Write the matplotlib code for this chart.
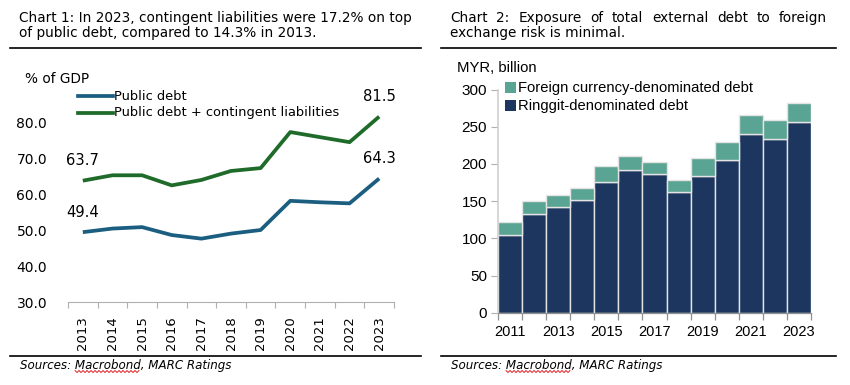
import matplotlib
matplotlib.use('Agg')
import matplotlib.pyplot as plt
from matplotlib.lines import Line2D
from matplotlib.patches import Rectangle
import numpy as np

# ---------------- data ----------------
years_left = ['2013', '2014', '2015', '2016', '2017', '2018', '2019', '2020', '2021', '2022', '2023']
public_debt = [49.4, 50.4, 50.8, 48.6, 47.6, 49.0, 50.0, 58.1, 57.7, 57.4, 64.3]
public_plus_contingent = [63.7, 65.2, 65.2, 62.4, 63.9, 66.4, 67.2, 77.2, 75.8, 74.4, 81.5]
left_yticks = [30, 40, 50, 60, 70, 80]

years_right = [2011, 2012, 2013, 2014, 2015, 2016, 2017, 2018, 2019, 2020, 2021, 2022, 2023]
ringgit_debt = [104.4, 132.2, 141.6, 151.4, 175.6, 191.8, 186.4, 162.2, 183.7, 205.6, 240.6, 233.4, 256.3]
foreign_debt = [17.9, 17.4, 16.6, 16.6, 22.0, 18.3, 16.6, 16.6, 23.7, 24.2, 25.5, 25.1, 25.6]
right_yticks = [0, 50, 100, 150, 200, 250, 300]

# ---------------- style ----------------
C_BLUE = '#1b5e80'
C_GREEN = '#1e6b2a'
C_NAVY = '#1d3660'
C_TEAL = '#5aa493'
AX_GRAY = '#b0b0b0'
LEFT_FONT = 'DejaVu Sans'
RIGHT_FONT = 'Liberation Sans'

W, H = 850, 385
fig = plt.figure(figsize=(W / 100, H / 100), dpi=100)


def fx(x):
    return x / W


def fy(y):
    return 1 - y / H


def ftext(x, y, s, **kw):
    return fig.text(fx(x), fy(y), s, **kw)


def hline(x0, x1, y, color='black', lw=1.0):
    fig.add_artist(Line2D([fx(x0), fx(x1)], [fy(y), fy(y)], transform=fig.transFigure,
                          color=color, lw=lw))


TITLE_FS = 9.85
# ---------------- titles ----------------
ftext(19, 18, 'Chart 1: In 2023, contingent liabilities were 17.2% on top',
      fontsize=TITLE_FS, family=LEFT_FONT, va='center', ha='left')
ftext(19, 33, 'of public debt, compared to 14.3% in 2013.',
      fontsize=TITLE_FS, family=LEFT_FONT, va='center', ha='left')

# right title, first line justified
words = 'Chart 2: Exposure of total external debt to foreign'.split()
word_objs = [ftext(450, 18, w, fontsize=TITLE_FS, family=LEFT_FONT, va='center', ha='left') for w in words]
ftext(450, 33, 'exchange risk is minimal.', fontsize=TITLE_FS, family=LEFT_FONT, va='center', ha='left')
fig.canvas.draw()
renderer = fig.canvas.get_renderer()
widths = [t.get_window_extent(renderer).width for t in word_objs]
x_start, x_end = 450, 827
gap = (x_end - x_start - sum(widths)) / (len(words) - 1)
xpos = x_start
for t, wdt in zip(word_objs, widths):
    t.set_x(fx(xpos))
    xpos += wdt + gap

hline(10, 421, 48, lw=1.2)
hline(441, 836, 48, lw=1.2)
hline(10, 421, 356, lw=1.2)
hline(441, 836, 356, lw=1.2)

# sources
for x0 in (20, 451):
    ftext(x0, 366, 'Sources: Macrobond, MARC Ratings', fontsize=8.6, family=LEFT_FONT,
          style='italic', va='center', ha='left')
# spell-check squiggle under "Macrobond"
for xs in (75, 506):
    zx = np.arange(xs, xs + 66, 2.0)
    zy = 371.5 + np.where(np.arange(len(zx)) % 2 == 0, -1.0, 1.0)
    fig.add_artist(Line2D(fx(zx), fy(zy), transform=fig.transFigure, color='#e02020', lw=0.7))

# ---------------- left chart ----------------
ax1 = fig.add_axes([fx(68), fy(302), (394 - 68) / W, (302 - 86) / H])
xl = np.arange(len(years_left))
ax1.plot(xl, public_debt, color=C_BLUE, lw=2.7, solid_capstyle='butt')
ax1.plot(xl, public_plus_contingent, color=C_GREEN, lw=2.7, solid_capstyle='butt')
ax1.set_xlim(-0.5, len(years_left) - 0.5)
ax1.set_ylim(30, 90)
ax1.set_yticks(left_yticks)
ax1.set_yticklabels([f'{v:.1f}' for v in left_yticks], family=LEFT_FONT, fontsize=10)
ax1.tick_params(axis='y', length=0, pad=15)
ax1.set_xticks(xl)
ax1.set_xticklabels(years_left, rotation=90, family=LEFT_FONT, fontsize=9.5)
ax1.tick_params(axis='x', which='major', length=0, pad=10)
ax1.set_xticks(np.arange(-0.5, len(years_left)), minor=True)
ax1.tick_params(axis='x', which='minor', length=4, color=AX_GRAY, width=0.8)
for s in ('top', 'right', 'left'):
    ax1.spines[s].set_visible(False)
ax1.spines['bottom'].set_color(AX_GRAY)
ax1.spines['bottom'].set_linewidth(0.8)
ax1.patch.set_alpha(0)

for i in (0, len(years_left) - 1):
    for series in (public_debt, public_plus_contingent):
        ax1.annotate(f'{series[i]:.1f}', (xl[i], series[i]), xytext=(0, 20),
                     textcoords='offset pixels', ha='center', va='center',
                     fontsize=10.6, family=LEFT_FONT)

ftext(25, 79, '% of GDP', fontsize=9.8, family=LEFT_FONT, va='center', ha='left')
for yy, col, lab in ((96, C_BLUE, 'Public debt'),
                     (112.5, C_GREEN, 'Public debt + contingent liabilities')):
    fig.add_artist(Line2D([fx(78), fx(113)], [fy(yy), fy(yy)], transform=fig.transFigure,
                          color=col, lw=2.7))
    ftext(114, yy, lab, fontsize=9.4, family=LEFT_FONT, va='center', ha='left')

# ---------------- right chart ----------------
ax2 = fig.add_axes([fx(498.3), fy(312.7), (810.7 - 498.3) / W, (312.7 - 89.5) / H])
xr = np.arange(len(years_right))
ax2.bar(xr, ringgit_debt, width=1.0, color=C_NAVY, edgecolor='#e4e4e4', linewidth=1.0)
ax2.bar(xr, foreign_debt, bottom=ringgit_debt, width=1.0, color=C_TEAL,
        edgecolor='#e4e4e4', linewidth=1.0)
ax2.set_xlim(-0.5, len(years_right) - 0.5)
ax2.set_ylim(0, 300)
ax2.set_yticks(right_yticks)
ax2.set_yticklabels([str(v) for v in right_yticks], family=RIGHT_FONT, fontsize=11)
ax2.tick_params(axis='y', length=5, color=AX_GRAY, width=0.8, pad=3)
label_idx = [i for i, y in enumerate(years_right) if y % 2 == 1]
ax2.set_xticks(label_idx)
ax2.set_xticklabels([str(years_right[i]) for i in label_idx], family=RIGHT_FONT, fontsize=10.5)
ax2.tick_params(axis='x', which='major', length=0, pad=9)
ax2.set_xticks(np.arange(-0.5, len(years_right)), minor=True)
ax2.tick_params(axis='x', which='minor', length=5, color='#909090', width=0.9)
for s in ('top', 'right'):
    ax2.spines[s].set_visible(False)
ax2.spines['left'].set_color('#d0d0d0')
ax2.spines['left'].set_linewidth(1.2)
ax2.spines['bottom'].set_color('#909090')
ax2.spines['bottom'].set_linewidth(0.9)
ax2.patch.set_alpha(0)

ftext(457, 68, 'MYR, billion', fontsize=10.7, family=RIGHT_FONT, va='center', ha='left')
for yy, col, lab in ((88, C_TEAL, 'Foreign currency-denominated debt'),
                     (106, C_NAVY, 'Ringgit-denominated debt')):
    fig.add_artist(Rectangle((fx(505), fy(yy + 5)), 11 / W, 11 / H, transform=fig.transFigure,
                             facecolor=col, edgecolor='none'))
    ftext(518, yy, lab, fontsize=10.6, family=RIGHT_FONT, va='center', ha='left')

fig.savefig('out.png', dpi=100)
